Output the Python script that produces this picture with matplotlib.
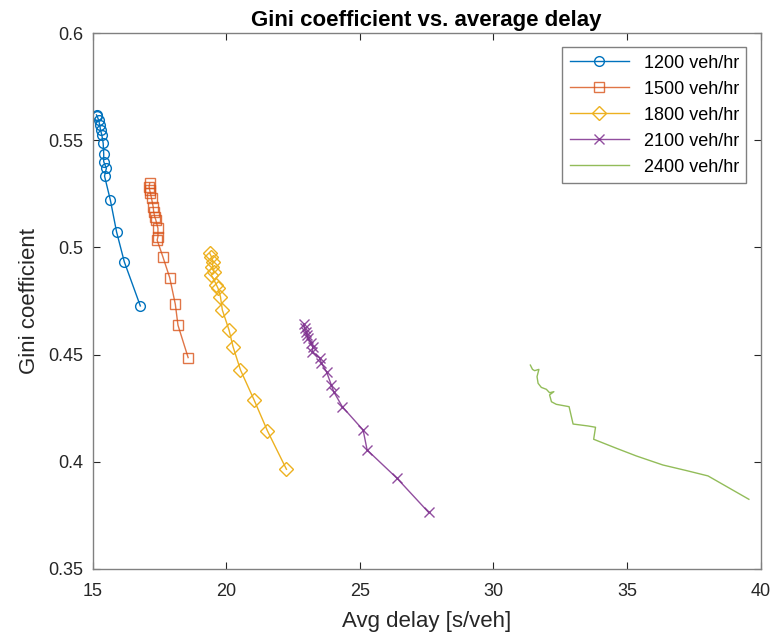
import numpy as np
import matplotlib.pyplot as plt

plt.rcParams['font.family'] = ['Liberation Sans', 'DejaVu Sans']

# delay [s/veh] and Gini coefficient per demand level
x1200 = [15.14, 15.16, 15.22, 15.26, 15.29, 15.34, 15.39, 15.41, 15.41, 15.51, 15.44, 15.66, 15.89, 16.18, 16.78]
y1200 = [0.5618, 0.5613, 0.5594, 0.5571, 0.5548, 0.5524, 0.5486, 0.5436, 0.5400, 0.5369, 0.5333, 0.5220, 0.5073, 0.4933, 0.4727]

x1500 = [17.13, 17.11, 17.13, 17.16, 17.20, 17.26, 17.28, 17.32, 17.36, 17.44, 17.44, 17.41, 17.63, 17.88, 18.09, 18.19, 18.57]
y1500 = [0.5299, 0.5283, 0.5268, 0.5252, 0.5229, 0.5190, 0.5167, 0.5143, 0.5128, 0.5089, 0.5050, 0.5034, 0.4954, 0.4859, 0.4735, 0.4637, 0.4486]

x1800 = [19.38, 19.44, 19.50, 19.48, 19.53, 19.44, 19.63, 19.69, 19.78, 19.85, 20.10, 20.25, 20.53, 21.04, 21.54, 22.25]
y1800 = [0.4972, 0.4957, 0.4933, 0.4910, 0.4887, 0.4871, 0.4825, 0.4809, 0.4770, 0.4708, 0.4615, 0.4537, 0.4428, 0.4288, 0.4144, 0.3965]

x2100 = [22.90, 22.93, 23.00, 23.02, 23.06, 23.18, 23.24, 23.22, 23.50, 23.56, 23.75, 23.93, 24.02, 24.34, 25.12, 25.27, 26.39, 27.57]
y2100 = [0.4643, 0.4623, 0.4607, 0.4591, 0.4576, 0.4553, 0.4537, 0.4514, 0.4483, 0.4459, 0.4420, 0.4358, 0.4327, 0.4257, 0.4148, 0.4055, 0.3923, 0.3764]

x2400 = [31.38, 31.46, 31.54, 31.70, 31.63, 31.67, 31.79, 31.98, 32.10, 32.26, 32.10, 32.17, 32.35, 32.83, 32.98,
         33.54, 33.82, 33.75, 34.60, 35.35, 36.34, 37.22, 38.03, 39.56]
y2400 = [0.4451, 0.4431, 0.4425, 0.4431, 0.4397, 0.4366, 0.4347, 0.4338, 0.4322, 0.4327, 0.4312, 0.4280, 0.4268, 0.4257, 0.4176,
         0.4167, 0.4161, 0.4105, 0.4063, 0.4027, 0.3985, 0.3959, 0.3934, 0.3825]

fig = plt.figure(figsize=(7.73, 6.35), dpi=100)
ax = fig.add_axes([0.120, 0.104, 0.864, 0.844])

ax.plot(x1200, y1200, color='#0072BD', marker='o', mfc='none', ms=7, lw=1, mew=1, label='1200 veh/hr')
ax.plot(x1500, y1500, color='#D95319', marker='s', mfc='none', ms=7, lw=1, mew=1, label='1500 veh/hr', alpha=0.8)
ax.plot(x1800, y1800, color='#EDB120', marker='D', mfc='none', ms=7, lw=1, mew=1, label='1800 veh/hr')
ax.plot(x2100, y2100, color='#7E2F8E', marker='x', ms=7, lw=1, mew=1, label='2100 veh/hr', alpha=0.85)
ax.plot(x2400, y2400, color='#77AC30', lw=1, label='2400 veh/hr', alpha=0.8)

ax.set_xlim(15, 40)
ax.set_ylim(0.35, 0.6)
ax.set_xticks([15, 20, 25, 30, 35, 40])
ax.set_yticks([0.35, 0.4, 0.45, 0.5, 0.55, 0.6])
ax.set_yticklabels(['0.35', '0.4', '0.45', '0.5', '0.55', '0.6'])
ax.tick_params(direction='in', top=True, right=True, labelsize=13, colors='#262626', length=5)
ax.tick_params(axis='x', pad=10)
ax.tick_params(axis='y', pad=7)
for s in ax.spines.values():
    s.set_color('#808080')
    s.set_linewidth(1)

ax.set_xlabel('Avg delay [s/veh]', fontsize=16, color='#262626', labelpad=8)
ax.set_ylabel('Gini coefficient', fontsize=16, color='#262626', labelpad=6)
ax.set_title('Gini coefficient vs. average delay', fontsize=16, fontweight='bold', pad=5)

leg = ax.legend(loc='upper right', fontsize=13, fancybox=False, edgecolor='#808080', framealpha=1,
                handlelength=3.3, borderaxespad=0.8, labelspacing=0.5)
leg.get_frame().set_linewidth(1)

fig.savefig('out.png', dpi=100)
